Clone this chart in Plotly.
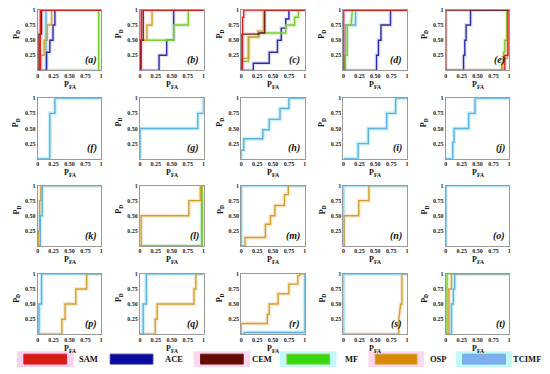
import plotly.graph_objects as go

# ---------------- data ----------------
PANEL_LABELS = ["(a)", "(b)", "(c)", "(d)", "(e)",
                "(f)", "(g)", "(h)", "(i)", "(j)",
                "(k)", "(l)", "(m)", "(n)", "(o)",
                "(p)", "(q)", "(r)", "(s)", "(t)"]
METHODS = ["SAM", "ACE", "CEM", "MF", "OSP", "TCIMF"]
X_TICK_VALS = [0, 0.25, 0.5, 0.75, 1]
X_TICK_TEXT = ["0", "0.25", "0.50", "0.75", "1"]
Y_TICK_VALS = [0.25, 0.5, 0.75, 1]
Y_TICK_TEXT = ["0.25", "0.50", "0.75", "1"]

# ROC curves per panel: method -> (P_FA list, P_D list)
roc_a = {
    "TCIMF": ([0, 0.13, 0.13, 1], [0, 0, 1, 1]),
    "MF": ([0, 0.96, 0.96, 1], [0, 0, 1, 1]),
    "ACE": ([0, 0.14, 0.14, 0.19, 0.19, 0.24, 0.24, 0.27, 0.27, 1], [0, 0, 0.3, 0.3, 0.5, 0.5, 0.75, 0.75, 1, 1]),
    "OSP": ([0, 0.05, 0.05, 0.1, 0.1, 0.15, 0.15, 0.22, 0.22, 1], [0, 0, 0.25, 0.25, 0.5, 0.5, 0.75, 0.75, 1, 1]),
    "CEM": ([0, 0.02, 0.02, 0.06, 0.06, 1], [0, 0, 0.6, 0.6, 1, 1]),
    "SAM": ([0, 0.04, 0.04, 1], [0, 0, 1, 1]),
}
roc_b = {
    "ACE": ([0, 0.3, 0.3, 0.42, 0.42, 0.53, 0.53, 1], [0, 0, 0.25, 0.25, 0.5, 0.5, 1, 1]),
    "MF": ([0, 0, 0.53, 0.53, 0.76, 0.76, 1], [0, 0.5, 0.5, 0.75, 0.75, 1, 1]),
    "OSP": ([0, 0.02, 0.02, 0.11, 0.11, 0.19, 0.19, 1], [0, 0, 0.5, 0.5, 0.75, 0.75, 1, 1]),
    "CEM": ([0, 0.01, 0.01, 0.05, 0.05, 1], [0, 0, 0.5, 0.5, 1, 1]),
    "SAM": ([0, 0.02, 0.02, 1], [0, 0, 1, 1]),
}
roc_c = {
    "ACE": ([0, 0.19, 0.19, 0.44, 0.44, 0.57, 0.57, 0.63, 0.63, 0.7, 0.7, 0.75, 0.75, 1],
            [0, 0, 0.12, 0.12, 0.3, 0.3, 0.5, 0.5, 0.7, 0.7, 0.85, 0.85, 1, 1]),
    "MF": ([0, 0, 0.11, 0.11, 0.28, 0.28, 0.7, 0.7, 0.84, 0.84, 0.9, 0.9, 1],
           [0, 0.15, 0.15, 0.55, 0.55, 0.62, 0.62, 0.75, 0.75, 0.88, 0.88, 1, 1]),
    "OSP": ([0, 0.01, 0.01, 0.12, 0.12, 0.26, 0.26, 0.35, 0.35, 1], [0, 0, 0.2, 0.2, 0.55, 0.55, 0.65, 0.65, 1, 1]),
    "CEM": ([0, 0.01, 0.01, 0.28, 0.28, 0.37, 0.37, 1], [0, 0, 0.6, 0.6, 0.62, 0.62, 1, 1]),
    "SAM": ([0, 0.02, 0.02, 0.04, 0.04, 1], [0, 0, 0.88, 0.88, 1, 1]),
}
roc_d = {
    "TCIMF": ([0, 0.03, 0.03, 0.19, 0.19, 1], [0, 0, 0.75, 0.75, 1, 1]),
    "ACE": ([0, 0.52, 0.52, 0.55, 0.55, 0.59, 0.59, 0.74, 0.74, 1], [0, 0, 0.25, 0.25, 0.5, 0.5, 0.75, 0.75, 1, 1]),
    "MF": ([0, 0.02, 0.02, 0.06, 0.06, 0.12, 0.14, 1], [0, 0, 0.25, 0.25, 0.75, 0.75, 1, 1]),
    "CEM": ([0, 0, 1], [0, 1, 1]),
    "SAM": ([0, 0, 1], [0, 1, 1]),
}
roc_e = {
    "ACE": ([0, 0.28, 0.28, 0.3, 0.3, 0.32, 0.32, 0.39, 0.39, 1], [0, 0, 0.25, 0.25, 0.5, 0.5, 0.75, 0.75, 1, 1]),
    "MF": ([0, 0.88, 0.88, 0.91, 0.91, 0.93, 0.93, 0.96, 0.96, 1], [0, 0, 0.12, 0.12, 0.3, 0.3, 0.5, 0.5, 1, 1]),
    "OSP": ([0, 0.9, 0.9, 0.97, 0.97, 1], [0, 0, 0.2, 0.2, 1, 1]),
    "SAM": ([0, 0.93, 0.93, 0.98, 0.98, 1], [0, 0, 0.25, 0.25, 1, 1]),
    "CEM": ([0, 0, 1], [0, 1, 1]),
}
roc_f = {"TCIMF": ([0, 0.19, 0.19, 0.27, 0.27, 1], [0, 0, 0.75, 0.75, 1, 1])}
roc_g = {"TCIMF": ([0, 0, 0.91, 0.91, 1, 1], [0, 0.5, 0.5, 0.75, 0.75, 1])}
roc_h = {"TCIMF": ([0, 0, 0.04, 0.04, 0.34, 0.34, 0.44, 0.44, 0.61, 0.61, 0.75, 0.75, 1],
                   [0, 0.14, 0.14, 0.33, 0.33, 0.48, 0.48, 0.65, 0.65, 0.83, 0.83, 1, 1])}
roc_i = {"TCIMF": ([0, 0.23, 0.23, 0.39, 0.39, 0.68, 0.68, 0.82, 0.82, 1], [0, 0, 0.25, 0.25, 0.5, 0.5, 0.75, 0.75, 1, 1])}
roc_j = {"TCIMF": ([0, 0.11, 0.11, 0.13, 0.13, 0.36, 0.36, 0.46, 0.46, 1], [0, 0, 0.27, 0.27, 0.5, 0.5, 0.75, 0.75, 1, 1])}
roc_k = {
    "OSP": ([0, 0.01, 0.01, 0.03, 0.03, 0.05, 0.05, 1], [0, 0, 0.25, 0.25, 0.75, 0.75, 1, 1]),
    "TCIMF": ([0, 0.04, 0.04, 0.07, 0.07, 1], [0, 0, 0.5, 0.5, 1, 1]),
}
roc_l = {
    "TCIMF": ([0, 0.97, 0.97, 1], [0, 0, 1, 1]),
    "MF": ([0, 0.98, 0.98, 1], [0, 0, 1, 1]),
    "OSP": ([0, 0.02, 0.02, 0.77, 0.77, 0.95, 0.95, 1], [0, 0, 0.5, 0.5, 0.75, 0.75, 1, 1]),
}
roc_m = {
    "OSP": ([0, 0.06, 0.06, 0.38, 0.38, 0.46, 0.46, 0.53, 0.53, 0.68, 0.68, 0.74, 0.74, 1],
            [0, 0, 0.14, 0.14, 0.36, 0.36, 0.5, 0.5, 0.67, 0.67, 0.85, 0.85, 1, 1]),
    "TCIMF": ([0, 0, 1], [0, 1, 1]),
}
roc_n = {
    "OSP": ([0, 0.01, 0.01, 0.24, 0.24, 0.4, 0.4, 1], [0, 0, 0.5, 0.5, 0.75, 0.75, 1, 1]),
    "TCIMF": ([0, 0, 1], [0, 1, 1]),
}
roc_o = {"TCIMF": ([0, 0, 1], [0, 1, 1])}
roc_p = {
    "OSP": ([0, 0.38, 0.38, 0.43, 0.43, 0.6, 0.6, 0.77, 0.77, 1], [0, 0, 0.25, 0.25, 0.5, 0.5, 0.75, 0.75, 1, 1]),
    "TCIMF": ([0, 0.02, 0.02, 0.06, 0.06, 1], [0, 0, 0.5, 0.5, 1, 1]),
}
roc_q = {
    "OSP": ([0, 0.24, 0.24, 0.27, 0.27, 0.85, 0.85, 0.88, 0.88, 1], [0, 0, 0.25, 0.25, 0.5, 0.5, 0.75, 0.75, 1, 1]),
    "TCIMF": ([0, 0.05, 0.05, 0.1, 0.1, 1], [0, 0, 0.5, 0.5, 1, 1]),
}
roc_r = {
    "TCIMF": ([0, 0.05, 0.05, 1, 1], [0, 0, 0.03, 0.03, 1]),
    "OSP": ([0, 0, 0.41, 0.41, 0.44, 0.44, 0.58, 0.58, 0.75, 0.75, 0.89, 0.89, 0.92, 0.92, 1],
            [0, 0.18, 0.18, 0.33, 0.33, 0.5, 0.5, 0.67, 0.67, 0.83, 0.83, 0.97, 0.97, 1, 1]),
}
roc_s = {
    "OSP": ([0, 0.87, 0.87, 0.9, 0.9, 0.92, 0.92, 1], [0, 0, 0.25, 0.45, 0.5, 0.5, 1, 1]),
    "TCIMF": ([0, 0, 1], [0, 1, 1]),
}
roc_t = {
    "MF": ([0, 0.02, 0.02, 1], [0, 0, 1, 1]),
    "OSP": ([0, 0.05, 0.05, 0.09, 0.09, 1], [0, 0, 0.75, 0.75, 1, 1]),
    "TCIMF": ([0, 0.09, 0.09, 0.12, 0.12, 0.14, 0.14, 1], [0, 0, 0.5, 0.5, 0.75, 0.75, 1, 1]),
}
ROC = [roc_a, roc_b, roc_c, roc_d, roc_e, roc_f, roc_g, roc_h, roc_i, roc_j,
       roc_k, roc_l, roc_m, roc_n, roc_o, roc_p, roc_q, roc_r, roc_s, roc_t]

# ---------------- styling ----------------
LINE_COLOR = {"SAM": "#e02020", "ACE": "#2c2ca6", "CEM": "#6e1a0c",
              "MF": "#7ccc2c", "OSP": "#d2a030", "TCIMF": "#62b0e0"}
HALO_COLOR = {"SAM": "#fbdce8", "ACE": "#e2e2f6", "CEM": "#f4e0e0",
              "MF": "#dcf4d0", "OSP": "#f8ead2", "TCIMF": "#c8f2f8"}
LEG_FILL = {"SAM": "#d41c10", "ACE": "#0a0a9c", "CEM": "#640c02",
            "MF": "#34d80c", "OSP": "#d88a04", "TCIMF": "#7eaef0"}
LEG_HALO = {"SAM": "#fbd0f0", "ACE": "#ffffff", "CEM": "#fbd8f0",
            "MF": "#c4f8f8", "OSP": "#fbd8f0", "TCIMF": "#c4f8f8"}
LEG_X_PX = {"SAM": (22, 65, 87), "ACE": (109, 152, 173), "CEM": (200, 243, 262),
            "MF": (287, 330, 352), "OSP": (376, 418, 440), "TCIMF": (464, 507, 529)}

W, H = 550, 374
COL_LEFT = [36, 139, 241, 344, 447]
ROW_TOP = [7, 96, 184, 273]
PW, PH = 64, 61
SERIF = "Liberation Serif"

fig = go.Figure()
layout = dict(width=W, height=H, margin=dict(l=0, r=0, t=0, b=0),
              paper_bgcolor="white", plot_bgcolor="white", showlegend=False)
annotations = []
shapes = []

for i, roc in enumerate(ROC):
    n = i + 1
    r, c = divmod(i, 5)
    x0 = COL_LEFT[c] / W
    x1 = (COL_LEFT[c] + PW) / W
    y1 = 1 - ROW_TOP[r] / H
    y0 = 1 - (ROW_TOP[r] + PH) / H
    xa = "xaxis" if n == 1 else f"xaxis{n}"
    ya = "yaxis" if n == 1 else f"yaxis{n}"
    xr = "x" if n == 1 else f"x{n}"
    yr = "y" if n == 1 else f"y{n}"
    axis_common = dict(showgrid=False, zeroline=False, showline=True, linecolor="#9a9a9a",
                       linewidth=1, mirror=True, ticks="", ticklen=0, fixedrange=True,
                       tickfont=dict(family=SERIF, size=6, color="#222", weight="bold"))
    layout[xa] = dict(domain=[x0, x1], range=[0, 1], anchor=yr, ticklabelstandoff=-1,
                      tickvals=X_TICK_VALS, ticktext=X_TICK_TEXT, **axis_common)
    layout[ya] = dict(domain=[y0, y1], range=[0, 1], anchor=xr,
                      tickvals=Y_TICK_VALS, ticktext=Y_TICK_TEXT, **axis_common)
    for m, (fx, fy) in roc.items():
        fig.add_trace(go.Scatter(x=fx, y=fy, mode="lines", xaxis=xr, yaxis=yr,
                                 line=dict(color=HALO_COLOR[m], width=4), hoverinfo="skip"))
    for m, (fx, fy) in roc.items():
        fig.add_trace(go.Scatter(x=fx, y=fy, mode="lines", xaxis=xr, yaxis=yr, name=m,
                                 line=dict(color=LINE_COLOR[m], width=1.4)))
    annotations.append(dict(text=f"<b><i>{PANEL_LABELS[i]}</i></b>", xref=f"{xr} domain", yref=f"{yr} domain",
                             x=0.96, y=0.04, xanchor="right", yanchor="bottom", showarrow=False,
                             font=dict(family=SERIF, size=10, color="#111")))
    annotations.append(dict(text="P<sub>FA</sub>", xref=f"{xr} domain", yref=f"{yr} domain",
                            x=0.5, y=-0.235, xanchor="center", yanchor="middle", showarrow=False,
                            font=dict(family=SERIF, size=8, color="#111", weight="bold")))
    annotations.append(dict(text="P<sub>D</sub>", xref=f"{xr} domain", yref=f"{yr} domain",
                            x=-0.33, y=0.6, xanchor="center", yanchor="middle", showarrow=False,
                            textangle=-90,
                            font=dict(family=SERIF, size=8, color="#111", weight="bold")))

# legend row
ly0, ly1 = 1 - 364 / H, 1 - 354 / H
for m in METHODS:
    a, b, cx = LEG_X_PX[m]
    shapes.append(dict(type="rect", xref="paper", yref="paper", x0=(a - 7) / W, x1=(b + 7) / W,
                       y0=ly0 - 3 / H, y1=ly1 + 3 / H, fillcolor=LEG_HALO[m], line=dict(width=0), layer="below"))
    shapes.append(dict(type="rect", xref="paper", yref="paper", x0=a / W, x1=b / W,
                       y0=ly0, y1=ly1, fillcolor=LEG_FILL[m], line=dict(color=LINE_COLOR[m], width=1)))
    annotations.append(dict(text=f"<b>{m}</b>", xref="paper", yref="paper", x=cx / W, y=(ly0 + ly1) / 2,
                            xanchor="center", yanchor="middle", showarrow=False,
                            font=dict(family=SERIF, size=8.5, color="#111")))

layout["annotations"] = annotations
layout["shapes"] = shapes
fig.update_layout(**layout)
fig.write_html("out.html", config={"displayModeBar": False},
               post_script="document.body.style.margin='0';document.body.style.overflow='hidden';")
